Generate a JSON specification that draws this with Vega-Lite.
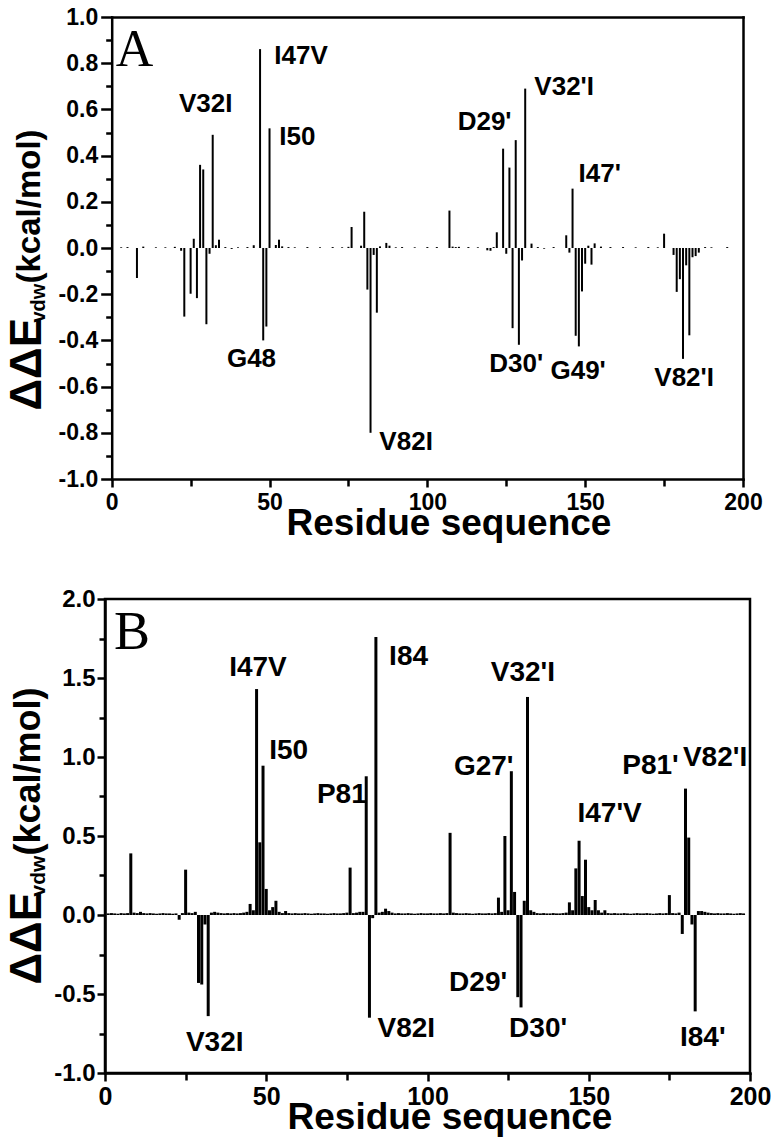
{
  "$schema": "https://vega.github.io/schema/vega-lite/v6.json",
  "padding": {"top": 6, "left": 4, "right": 5, "bottom": 5},
  "spacing": 44,
  "config": {
    "view": {"stroke": "black", "strokeWidth": 2.5},
    "axis": {"labelFont": "Liberation Sans", "titleFont": "Liberation Sans", "labelFontWeight": "bold", "titleFontWeight": "bold", "labelColor": "black", "titleColor": "black", "domainColor": "black", "tickColor": "black", "grid": false, "domainWidth": 2.5, "domainCap": "square", "tickWidth": 2.5, "labelFlush": false, "labelOverlap": false},
    "text": {"font": "Liberation Sans", "color": "black"}
  },
  "datasets": {
    "a": [
      {"r":3,"v":0.003},{"r":5,"v":0.004},{"r":8,"v":-0.13},{"r":10,"v":0.006},{"r":14,"v":0.003},{"r":17,"v":0.003},{"r":20,"v":0.005},{"r":22,"v":-0.012},{"r":23,"v":-0.297},{"r":25,"v":-0.198},{"r":26,"v":0.04},{"r":27,"v":-0.217},{"r":28,"v":0.36},{"r":29,"v":0.34},{"r":30,"v":-0.33},{"r":31,"v":-0.025},{"r":32,"v":0.49},{"r":33,"v":0.012},{"r":34,"v":0.036},{"r":36,"v":0.004},{"r":38,"v":-0.004},{"r":40,"v":0.003},{"r":43,"v":0.004},{"r":45,"v":0.012},{"r":47,"v":0.861},{"r":48,"v":-0.4},{"r":49,"v":-0.34},{"r":50,"v":0.518},{"r":52,"v":0.013},{"r":53,"v":0.036},{"r":54,"v":0.007},{"r":56,"v":0.004},{"r":58,"v":0.003},{"r":62,"v":0.004},{"r":66,"v":0.003},{"r":70,"v":0.004},{"r":73,"v":0.003},{"r":75,"v":0.005},{"r":76,"v":0.091},{"r":79,"v":0.01},{"r":80,"v":0.157},{"r":81,"v":-0.18},{"r":82,"v":-0.8},{"r":83,"v":-0.03},{"r":84,"v":-0.28},{"r":85,"v":0.007},{"r":87,"v":0.022},{"r":88,"v":0.01},{"r":90,"v":0.003},{"r":92,"v":0.004},{"r":96,"v":0.003},{"r":100,"v":0.004},{"r":103,"v":0.004},{"r":107,"v":0.162},{"r":108,"v":0.006},{"r":109,"v":0.004},{"r":110,"v":0.005},{"r":113,"v":0.004},{"r":116,"v":0.003},{"r":119,"v":-0.01},{"r":120,"v":-0.012},{"r":121,"v":0.004},{"r":122,"v":0.068},{"r":124,"v":0.43},{"r":125,"v":-0.025},{"r":126,"v":0.348},{"r":127,"v":-0.347},{"r":128,"v":0.467},{"r":129,"v":-0.419},{"r":130,"v":-0.054},{"r":131,"v":0.69},{"r":133,"v":0.019},{"r":135,"v":0.004},{"r":137,"v":-0.003},{"r":140,"v":0.004},{"r":144,"v":0.055},{"r":145,"v":-0.02},{"r":146,"v":0.257},{"r":147,"v":-0.38},{"r":148,"v":-0.426},{"r":149,"v":-0.188},{"r":150,"v":-0.068},{"r":151,"v":0.01},{"r":152,"v":-0.072},{"r":153,"v":0.02},{"r":155,"v":0.006},{"r":158,"v":0.004},{"r":162,"v":0.004},{"r":166,"v":0.003},{"r":170,"v":0.004},{"r":173,"v":0.003},{"r":175,"v":0.062},{"r":178,"v":-0.03},{"r":179,"v":-0.19},{"r":180,"v":-0.135},{"r":181,"v":-0.48},{"r":182,"v":-0.075},{"r":183,"v":-0.378},{"r":184,"v":-0.04},{"r":185,"v":-0.035},{"r":186,"v":-0.02},{"r":188,"v":0.004},{"r":190,"v":0.003},{"r":195,"v":0.004}
    ],
    "la": [
      {"r":21.3,"v":0.59,"t":"V32I"},{"r":51.5,"v":0.798,"t":"I47V"},{"r":53.1,"v":0.444,"t":"I50"},{"r":36.5,"v":-0.515,"t":"G48"},{"r":84.8,"v":-0.876,"t":"V82I"},{"r":109.6,"v":0.509,"t":"D29'"},{"r":133.9,"v":0.661,"t":"V32'I"},{"r":147.9,"v":0.286,"t":"I47'"},{"r":119.6,"v":-0.537,"t":"D30'"},{"r":139.0,"v":-0.566,"t":"G49'"},{"r":171.9,"v":-0.597,"t":"V82'I"}
    ],
    "pa": [{"r":1.3,"v":0.789,"t":"A"}],
    "b": [
      {"r":1,"v":0.01},{"r":2,"v":0.012},{"r":3,"v":0.01},{"r":4,"v":0.008},{"r":5,"v":0.012},{"r":6,"v":0.01},{"r":7,"v":0.012},{"r":8,"v":0.39},{"r":9,"v":0.015},{"r":10,"v":0.012},
      {"r":11,"v":0.02},{"r":12,"v":0.012},{"r":13,"v":0.01},{"r":14,"v":0.012},{"r":15,"v":0.01},{"r":16,"v":0.008},{"r":17,"v":0.01},{"r":18,"v":0.012},{"r":19,"v":0.01},{"r":20,"v":0.01},
      {"r":21,"v":0.008},{"r":22,"v":0.01},{"r":23,"v":-0.03},{"r":24,"v":0.012},{"r":25,"v":0.287},{"r":26,"v":0.015},{"r":27,"v":0.012},{"r":28,"v":0.02},{"r":29,"v":-0.43},{"r":30,"v":-0.44},
      {"r":31,"v":-0.06},{"r":32,"v":-0.64},{"r":33,"v":0.015},{"r":34,"v":0.02},{"r":35,"v":0.015},{"r":36,"v":0.012},{"r":37,"v":0.01},{"r":38,"v":0.012},{"r":39,"v":0.01},{"r":40,"v":0.012},
      {"r":41,"v":0.01},{"r":42,"v":0.012},{"r":43,"v":0.015},{"r":44,"v":0.02},{"r":45,"v":0.07},{"r":46,"v":0.03},{"r":47,"v":1.43},{"r":48,"v":0.46},{"r":49,"v":0.945},{"r":50,"v":0.165},
      {"r":51,"v":0.03},{"r":52,"v":0.05},{"r":53,"v":0.09},{"r":54,"v":0.02},{"r":55,"v":0.012},{"r":56,"v":0.025},{"r":57,"v":0.012},{"r":58,"v":0.01},{"r":59,"v":0.012},{"r":60,"v":0.01},
      {"r":61,"v":0.01},{"r":62,"v":0.012},{"r":63,"v":0.01},{"r":64,"v":0.008},{"r":65,"v":0.01},{"r":66,"v":0.012},{"r":67,"v":0.01},{"r":68,"v":0.01},{"r":69,"v":0.008},{"r":70,"v":0.01},
      {"r":71,"v":0.012},{"r":72,"v":0.01},{"r":73,"v":0.01},{"r":74,"v":0.012},{"r":75,"v":0.015},{"r":76,"v":0.3},{"r":77,"v":0.012},{"r":78,"v":0.015},{"r":79,"v":0.02},{"r":80,"v":0.02},
      {"r":81,"v":0.878},{"r":82,"v":-0.65},{"r":83,"v":-0.02},{"r":84,"v":1.76},{"r":85,"v":0.015},{"r":86,"v":0.02},{"r":87,"v":0.04},{"r":88,"v":0.025},{"r":89,"v":0.015},{"r":90,"v":0.01},
      {"r":91,"v":0.012},{"r":92,"v":0.01},{"r":93,"v":0.01},{"r":94,"v":0.012},{"r":95,"v":0.01},{"r":96,"v":0.008},{"r":97,"v":0.01},{"r":98,"v":0.012},{"r":99,"v":0.01},{"r":100,"v":0.01},
      {"r":101,"v":0.012},{"r":102,"v":0.01},{"r":103,"v":0.01},{"r":104,"v":0.012},{"r":105,"v":0.01},{"r":106,"v":0.012},{"r":107,"v":0.52},{"r":108,"v":0.015},{"r":109,"v":0.012},{"r":110,"v":0.01},
      {"r":111,"v":0.01},{"r":112,"v":0.012},{"r":113,"v":0.01},{"r":114,"v":0.008},{"r":115,"v":0.01},{"r":116,"v":0.012},{"r":117,"v":0.01},{"r":118,"v":0.01},{"r":119,"v":0.012},{"r":120,"v":0.01},
      {"r":121,"v":0.012},{"r":122,"v":0.11},{"r":123,"v":0.02},{"r":124,"v":0.5},{"r":125,"v":0.03},{"r":126,"v":0.91},{"r":127,"v":0.146},{"r":128,"v":-0.52},{"r":129,"v":-0.585},{"r":130,"v":0.09},
      {"r":131,"v":1.38},{"r":132,"v":0.03},{"r":133,"v":0.02},{"r":134,"v":0.012},{"r":135,"v":0.01},{"r":136,"v":0.012},{"r":137,"v":0.01},{"r":138,"v":0.01},{"r":139,"v":0.012},{"r":140,"v":0.01},
      {"r":141,"v":0.01},{"r":142,"v":0.012},{"r":143,"v":0.015},{"r":144,"v":0.08},{"r":145,"v":0.03},{"r":146,"v":0.295},{"r":147,"v":0.47},{"r":148,"v":0.12},{"r":149,"v":0.35},{"r":150,"v":0.05},
      {"r":151,"v":0.03},{"r":152,"v":0.095},{"r":153,"v":0.03},{"r":154,"v":0.015},{"r":155,"v":0.03},{"r":156,"v":0.012},{"r":157,"v":0.01},{"r":158,"v":0.012},{"r":159,"v":0.01},{"r":160,"v":0.01},
      {"r":161,"v":0.012},{"r":162,"v":0.01},{"r":163,"v":0.008},{"r":164,"v":0.01},{"r":165,"v":0.012},{"r":166,"v":0.01},{"r":167,"v":0.01},{"r":168,"v":0.012},{"r":169,"v":0.01},{"r":170,"v":0.008},
      {"r":171,"v":0.01},{"r":172,"v":0.012},{"r":173,"v":0.01},{"r":174,"v":0.012},{"r":175,"v":0.126},{"r":176,"v":0.012},{"r":177,"v":0.01},{"r":178,"v":0.015},{"r":179,"v":-0.12},{"r":180,"v":0.8},
      {"r":181,"v":0.49},{"r":182,"v":-0.06},{"r":183,"v":-0.61},{"r":184,"v":0.025},{"r":185,"v":0.025},{"r":186,"v":0.02},{"r":187,"v":0.015},{"r":188,"v":0.012},{"r":189,"v":0.01},{"r":190,"v":0.012},
      {"r":191,"v":0.01},{"r":192,"v":0.01},{"r":193,"v":0.012},{"r":194,"v":0.01},{"r":195,"v":0.008},{"r":196,"v":0.01},{"r":197,"v":0.012},{"r":198,"v":0.01}
    ],
    "lb": [
      {"r":38.5,"v":1.515,"t":"I47V"},{"r":88.1,"v":1.582,"t":"I84"},{"r":50.9,"v":0.987,"t":"I50"},{"r":65.7,"v":0.709,"t":"P81"},{"r":119.6,"v":1.482,"t":"V32'I"},{"r":108.2,"v":0.886,"t":"G27'"},{"r":160.4,"v":0.892,"t":"P81'"},{"r":179.2,"v":0.945,"t":"V82'I"},{"r":146.5,"v":0.587,"t":"I47'V"},{"r":25.1,"v":-0.859,"t":"V32I"},{"r":84.5,"v":-0.774,"t":"V82I"},{"r":106.7,"v":-0.479,"t":"D29'"},{"r":125.3,"v":-0.774,"t":"D30'"},{"r":178.3,"v":-0.827,"t":"I84'"}
    ],
    "pb": [{"r":2.8,"v":1.684,"t":"B"}]
  },
  "vconcat": [
    {
      "width": 638, "height": 462,
      "view": {"stroke": null},
      "resolve": {"axis": {"x": "independent", "y": "independent"}},
      "layer": [
        {
          "data": {"name": "a"},
          "mark": {"type": "rule", "strokeWidth": 2, "color": "black"},
          "encoding": {
            "x": {"field": "r", "type": "quantitative", "scale": {"domain": [0, 200], "range": [6.7, 638], "nice": false, "zero": false},
              "axis": {"orient": "bottom", "values": [0, 50, 100, 150, 200], "tickSize": 8, "labelFontSize": 23, "labelPadding": 4, "title": "Residue sequence", "titleFontSize": 37, "titleX": 181, "titleY": 55, "titleAlign": "left", "titleBaseline": "alphabetic"}},
            "y": {"field": "v", "type": "quantitative", "scale": {"domain": [-1, 1], "nice": false, "zero": false},
              "axis": {"orient": "left", "offset": -6.7, "values": [-1, -0.8, -0.6, -0.4, -0.2, 0, 0.2, 0.4, 0.6, 0.8, 1], "labelExpr": "(datum.value < 0 ? '-' : '') + format(abs(datum.value), '.1f')", "tickSize": 11, "labelFontSize": 23, "labelPadding": 3, "title": "ΔΔE", "titleFontSize": 44, "titleAngle": -90, "titleX": -70.8, "titleY": 393, "titleAlign": "left", "titleBaseline": "alphabetic"}},
            "y2": {"datum": 0}
          }
        },
        {
          "data": {"name": "la"},
          "mark": {"type": "text", "fontSize": 26, "fontWeight": "bold", "align": "left", "baseline": "alphabetic"},
          "encoding": {
            "x": {"field": "r", "type": "quantitative", "scale": {"domain": [0, 200], "range": [6.7, 638], "nice": false, "zero": false},
              "axis": {"orient": "bottom", "values": [25, 75, 125, 175], "tickSize": 7, "labels": false, "domain": false, "title": null}},
            "y": {"field": "v", "type": "quantitative", "scale": {"domain": [-1, 1], "nice": false, "zero": false},
              "axis": {"orient": "left", "offset": -6.7, "values": [-0.9, -0.7, -0.5, -0.3, -0.1, 0.1, 0.3, 0.5, 0.7, 0.9], "tickSize": 6, "labels": false, "domain": false, "title": "vdw", "titleFontSize": 20, "titleAngle": -90, "titleX": -66.8, "titleY": 305, "titleAlign": "left", "titleBaseline": "alphabetic"}},
            "text": {"field": "t", "type": "nominal"}
          }
        },
        {
          "data": {"name": "pa"},
          "mark": {"type": "text", "fontSize": 52, "font": "Liberation Serif", "align": "left", "baseline": "alphabetic"},
          "encoding": {
            "x": {"field": "r", "type": "quantitative", "scale": {"domain": [0, 200], "range": [6.7, 638], "nice": false, "zero": false},
              "axis": {"orient": "top", "ticks": false, "labels": false, "domain": true, "title": null}},
            "y": {"field": "v", "type": "quantitative", "scale": {"domain": [-1, 1], "nice": false, "zero": false},
              "axis": {"orient": "left", "offset": -6.7, "ticks": false, "labels": false, "domain": false, "title": "(kcal/mol)", "titleFontSize": 33, "titleAngle": -90, "titleX": -71.8, "titleY": 266, "titleAlign": "left", "titleBaseline": "alphabetic"}},
            "text": {"field": "t", "type": "nominal"}
          }
        },
        {
          "mark": {"type": "rule", "strokeWidth": 1.5, "color": "black"},
          "encoding": {
            "x": {"datum": 0, "type": "quantitative", "scale": {"domain": [0, 200], "range": [6.7, 638], "nice": false, "zero": false}, "axis": null},
            "x2": {"datum": 200},
            "y": {"datum": 0, "type": "quantitative", "scale": {"domain": [-1, 1], "nice": false, "zero": false},
              "axis": {"orient": "right", "ticks": false, "labels": false, "domain": true, "title": null}}
          }
        }
      ]
    },
    {
      "width": 645, "height": 474,
      "resolve": {"axis": {"x": "independent", "y": "independent"}},
      "layer": [
        {
          "data": {"name": "b"},
          "mark": {"type": "rule", "strokeWidth": 3, "color": "black"},
          "encoding": {
            "x": {"field": "r", "type": "quantitative", "scale": {"domain": [0, 200], "nice": false, "zero": false},
              "axis": {"orient": "bottom", "values": [0, 50, 100, 150, 200], "tickSize": 8, "labelFontSize": 25, "labelPadding": 3, "title": "Residue sequence", "titleFontSize": 37, "titleX": 182, "titleY": 55, "titleAlign": "left", "titleBaseline": "alphabetic"}},
            "y": {"field": "v", "type": "quantitative", "scale": {"domain": [-1, 2], "nice": false, "zero": false},
              "axis": {"orient": "left", "values": [-1, -0.5, 0, 0.5, 1, 1.5, 2], "labelExpr": "(datum.value < 0 ? '-' : '') + format(abs(datum.value), '.1f')", "tickSize": 8, "labelFontSize": 24, "labelPadding": 2, "title": "ΔΔE", "titleFontSize": 44, "titleAngle": -90, "titleX": -64.1, "titleY": 385, "titleAlign": "left", "titleBaseline": "alphabetic"}},
            "y2": {"datum": 0}
          }
        },
        {
          "data": {"name": "lb"},
          "mark": {"type": "text", "fontSize": 28, "fontWeight": "bold", "align": "left", "baseline": "alphabetic"},
          "encoding": {
            "x": {"field": "r", "type": "quantitative", "scale": {"domain": [0, 200], "nice": false, "zero": false},
              "axis": {"orient": "bottom", "values": [25, 75, 125, 175], "tickSize": 7, "labels": false, "domain": false, "title": null}},
            "y": {"field": "v", "type": "quantitative", "scale": {"domain": [-1, 2], "nice": false, "zero": false},
              "axis": {"orient": "left", "values": [-0.75, -0.25, 0.25, 0.75, 1.25, 1.75], "tickSize": 6, "labels": false, "domain": false, "title": "vdw", "titleFontSize": 21, "titleAngle": -90, "titleX": -60.6, "titleY": 297, "titleAlign": "left", "titleBaseline": "alphabetic"}},
            "text": {"field": "t", "type": "nominal"}
          }
        },
        {
          "data": {"name": "pb"},
          "mark": {"type": "text", "fontSize": 54, "font": "Liberation Serif", "align": "left", "baseline": "alphabetic"},
          "encoding": {
            "x": {"field": "r", "type": "quantitative", "scale": {"domain": [0, 200], "nice": false, "zero": false}, "axis": null},
            "y": {"field": "v", "type": "quantitative", "scale": {"domain": [-1, 2], "nice": false, "zero": false},
              "axis": {"orient": "left", "ticks": false, "labels": false, "domain": false, "title": "(kcal/mol)", "titleFontSize": 36, "titleAngle": -90, "titleX": -65.1, "titleY": 256, "titleAlign": "left", "titleBaseline": "alphabetic"}},
            "text": {"field": "t", "type": "nominal"}
          }
        },
        {
          "mark": {"type": "rule", "strokeWidth": 2.5, "color": "black"},
          "encoding": {
            "y": {"datum": 0, "type": "quantitative", "scale": {"domain": [-1, 2], "nice": false, "zero": false}, "axis": null}
          }
        }
      ]
    }
  ]
}
